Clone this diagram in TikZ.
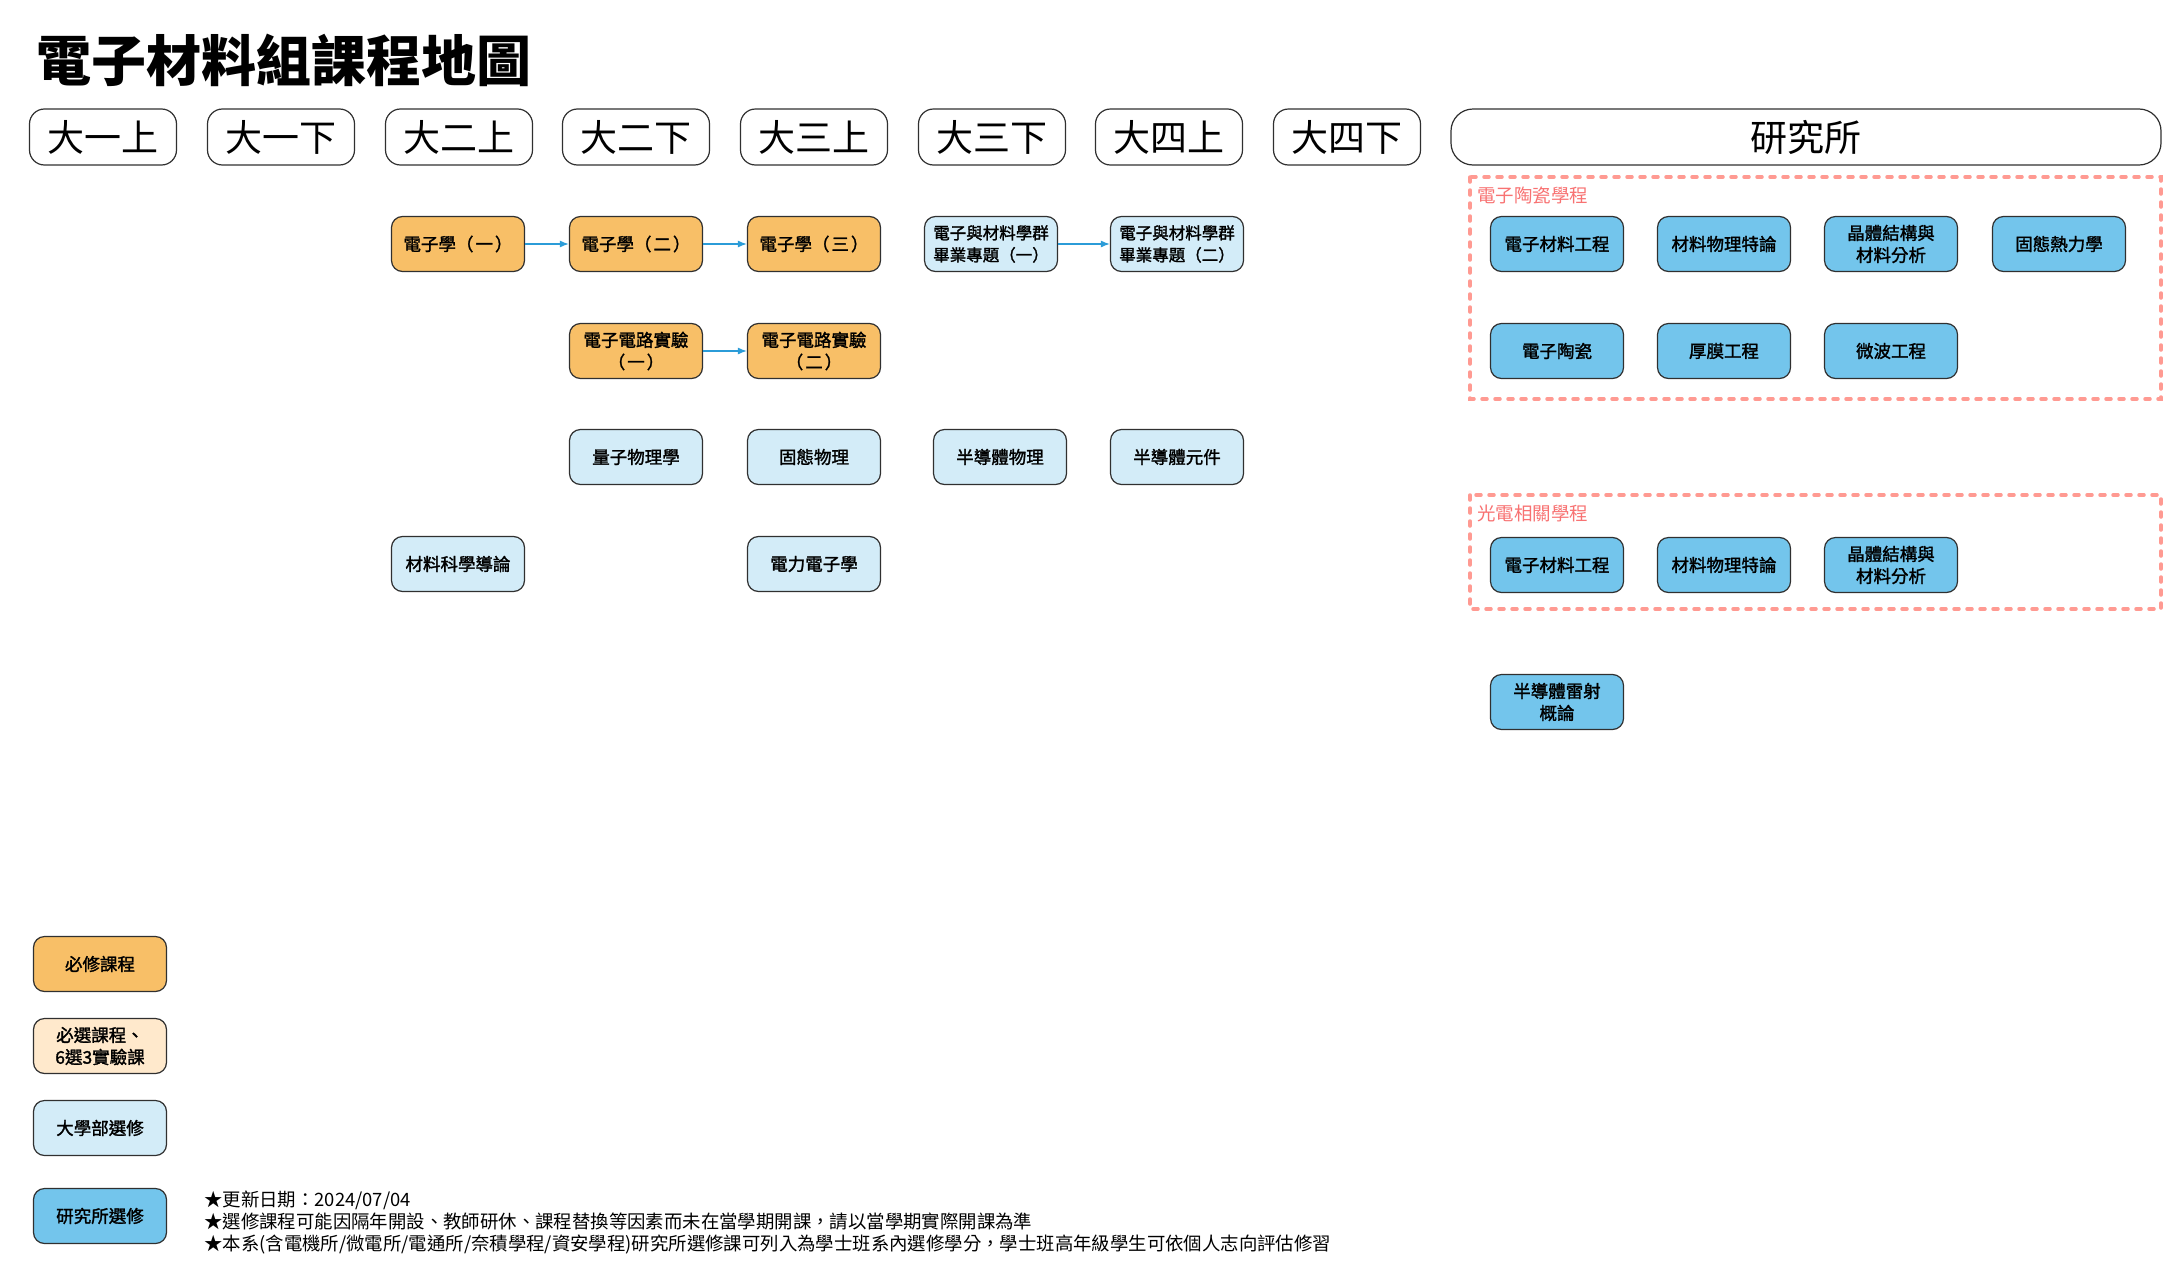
\documentclass[tikz,border=0pt]{standalone}
\usepackage{fontspec}
\setmainfont{Noto Sans CJK TC}
\newfontfamily\medf{Noto Sans CJK TC}[FakeBold=1.6]
\usetikzlibrary{arrows.meta}
\definecolor{reqc}{HTML}{F8BF67}
\definecolor{optc}{HTML}{FFE9CC}
\definecolor{ugc}{HTML}{D3ECF8}
\definecolor{gradc}{HTML}{73C5EC}
\definecolor{arrc}{HTML}{2B9CD8}
\definecolor{grpc}{HTML}{FF9A92}
\definecolor{grptxt}{HTML}{F87272}
\definecolor{bordc}{HTML}{303030}
\newcommand{\pp}[1]{（\kern2pt #1\kern2pt ）}
\begin{document}
\begin{tikzpicture}[x=1pt,y=-1pt,
  sem/.style={draw=bordc,line width=1.2,rounded corners=15,minimum width=147,minimum height=56,inner sep=0,font=\fontsize{37}{40}\selectfont},
  course/.style={draw=bordc,line width=1.2,rounded corners=11,minimum width=133,minimum height=55,inner sep=0,align=center,font=\fontsize{17.5}{22}\medf},
  req/.style={course,fill=reqc},
  opt/.style={course,fill=optc},
  ug/.style={course,fill=ugc},
  grad/.style={course,fill=gradc},
  proj/.style={ug,font=\fontsize{16.5}{22}\medf},
  arr/.style={-{Latex[length=9pt,width=7pt]},draw=arrc,line width=1.3},
  grp/.style={draw=grpc,line width=3.5,dash pattern=on 5pt off 8pt,line cap=round},
  grplabel/.style={anchor=west,inner sep=0,text=grptxt,font=\fontsize{18.5}{20}\selectfont},
  note/.style={anchor=west,inner sep=0,text height=14,text depth=4,font=\fontsize{18.4}{22}\selectfont}
]
\useasboundingbox[fill=white] (0,0) rectangle (2171,1274);

% title
\node[anchor=west,inner sep=0,font=\fontsize{55}{60}\selectfont\bfseries] (title) at (36,60) {電子材料組課程地圖};

% semester headers
\node[sem] (s1) at (103,137) {大一上};
\node[sem] (s2) at (281,137) {大一下};
\node[sem] (s3) at (459,137) {大二上};
\node[sem] (s4) at (636,137) {大二下};
\node[sem] (s5) at (814,137) {大三上};
\node[sem] (s6) at (992,137) {大三下};
\node[sem] (s7) at (1169,137) {大四上};
\node[sem] (s8) at (1347,137) {大四下};
\node[sem,minimum width=710,rounded corners=22] (gr) at (1806,137) {研究所};

% undergraduate courses
\node[req] (e1) at (458,244) {電子學\pp{一}};
\node[req] (e2) at (636,244) {電子學\pp{二}};
\node[req] (e3) at (814,244) {電子學\pp{三}};
\node[proj] (p1) at (991,244) {電子與材料學群\\畢業專題（一）};
\node[proj] (p2) at (1177,244) {電子與材料學群\\畢業專題（二）};
\node[req] (l1) at (636,351) {電子電路實驗\\\pp{一}};
\node[req] (l2) at (814,351) {電子電路實驗\\\pp{二}};
\node[ug] (qm) at (636,457) {量子物理學};
\node[ug] (ssp) at (814,457) {固態物理};
\node[ug] (sp) at (1000,457) {半導體物理};
\node[ug] (sd) at (1177,457) {半導體元件};
\node[ug] (ms) at (458,564) {材料科學導論};
\node[ug] (pe) at (814,564) {電力電子學};

\draw[arr] (e1) -- (e2);
\draw[arr] (e2) -- (e3);
\draw[arr] (p1) -- (p2);
\draw[arr] (l1) -- (l2);

% graduate groups
\draw[grp] (1470,177) rectangle (2161,399);
\node[grplabel] (g1lab) at (1477,195) {電子陶瓷學程};
\node[grad] (ga1) at (1557,244) {電子材料工程};
\node[grad] (ga2) at (1724,244) {材料物理特論};
\node[grad] (ga3) at (1891,244) {晶體結構與\\材料分析};
\node[grad] (ga4) at (2059,244) {固態熱力學};
\node[grad] (ga5) at (1557,351) {電子陶瓷};
\node[grad] (ga6) at (1724,351) {厚膜工程};
\node[grad] (ga7) at (1891,351) {微波工程};

\draw[grp] (1470,495) rectangle (2161,609);
\node[grplabel] (g2lab) at (1477,513) {光電相關學程};
\node[grad] (gb1) at (1557,565) {電子材料工程};
\node[grad] (gb2) at (1724,565) {材料物理特論};
\node[grad] (gb3) at (1891,565) {晶體結構與\\材料分析};

\node[grad] (laser) at (1557,702) {半導體雷射\\概論};

% legend
\node[req] (k1) at (100,964) {必修課程};
\node[opt] (k2) at (100,1046) {必選課程、\\6選3實驗課};
\node[ug] (k3) at (100,1128) {大學部選修};
\node[grad] (k4) at (100,1216) {研究所選修};

% notes
\node[note] (n1) at (204,1201) {★更新日期：2024/07/04};
\node[note] (n2) at (204,1223) {★選修課程可能因隔年開設、教師研休、課程替換等因素而未在當學期開課，請以當學期實際開課為準};
\node[note] (n3) at (204,1245) {★本系(含電機所/微電所/電通所/奈積學程/資安學程)研究所選修課可列入為學士班系內選修學分，學士班高年級學生可依個人志向評估修習};
\end{tikzpicture}
\end{document}
